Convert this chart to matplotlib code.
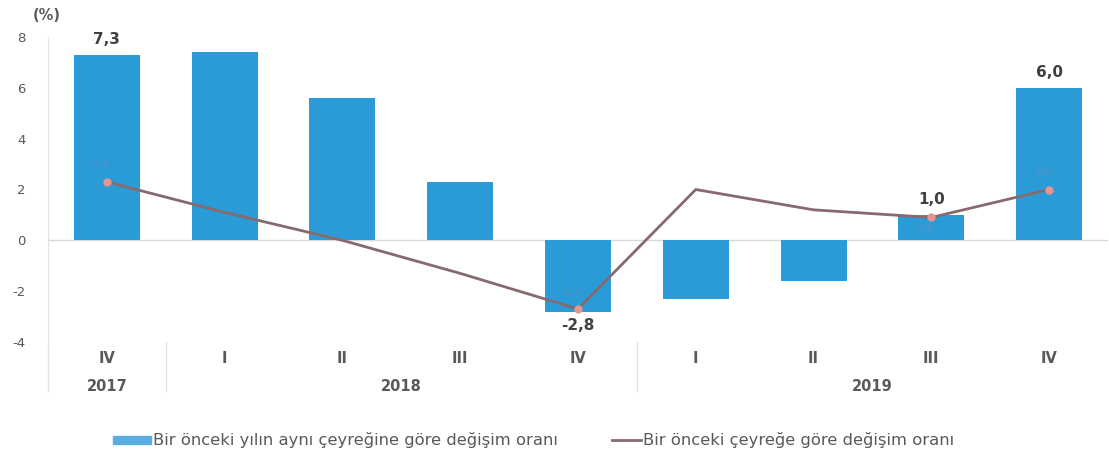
import matplotlib
matplotlib.use("Agg")
import matplotlib.pyplot as plt
import numpy as np
from matplotlib.transforms import blended_transform_factory
from matplotlib.patches import Rectangle
from matplotlib.lines import Line2D

quarters = ["IV", "I", "II", "III", "IV", "I", "II", "III", "IV"]
years = ["2017", "2018", "2019"]
year_spans = [(0, 0), (1, 4), (5, 8)]
annual_change = [7.3, 7.4, 5.6, 2.3, -2.8, -2.3, -1.6, 1.0, 6.0]
quarterly_change = [2.3, 1.1, 0.0, -1.3, -2.7, 2.0, 1.2, 0.9, 2.0]
bar_labels = {0: "7,3", 4: "-2,8", 7: "1,0", 8: "6,0"}
line_label_idx = [0, 4, 7, 8]
legend_bar = "Bir önceki yılın aynı çeyreğine göre değişim oranı"
legend_line = "Bir önceki çeyreğe göre değişim oranı"

plt.rcParams['font.family'] = ['DejaVu Sans']

fig = plt.figure(figsize=(11.09, 4.53), dpi=100)
ax = fig.add_axes([48/1109, (453-342)/453, 1060/1109, 305/453])

x = np.arange(len(quarters))
bar_color = '#2B9BD8'
line_color = '#866a6e'
txt = '#595959'

ax.bar(x, annual_change, width=0.56, color=bar_color, zorder=2)
ax.axhline(0, color='#d9d9d9', lw=1, zorder=1)
ax.plot(x, quarterly_change, color=line_color, lw=2.0, zorder=3,
        marker='o', markevery=line_label_idx, markersize=5,
        markerfacecolor='#e8948e', markeredgecolor='#e8948e')

for i, lab in bar_labels.items():
    v = annual_change[i]
    if v >= 0:
        ax.text(i, v + 0.3, lab, ha='center', va='bottom', fontsize=11,
                fontweight='bold', color='#404040', zorder=4)
    else:
        ax.text(i, v - 0.25, lab, ha='center', va='top', fontsize=11,
                fontweight='bold', color='#404040', zorder=4)

for i in line_label_idx:
    v = quarterly_change[i]
    s = f"{v:.1f}".replace('.', ',')
    if i == 7:
        ax.text(i - 0.05, v - 0.25, s, ha='center', va='top', fontsize=7.5,
                color='#6f8fae', alpha=0.55, zorder=4)
    else:
        ax.text(i - 0.05, v + 0.45, s, ha='center', va='bottom', fontsize=7.5,
                color='#6f8fae', alpha=0.55, zorder=4)

ax.set_xlim(-0.5, len(quarters) - 0.5)
ax.set_ylim(-4, 8)
ax.set_yticks(np.arange(-4, 9, 2))
ax.set_yticklabels([str(v) for v in range(-4, 9, 2)], fontsize=9.5, color=txt)
ax.tick_params(axis='y', length=0, pad=16)
ax.set_xticks([])
for sp in ['top', 'right', 'bottom']:
    ax.spines[sp].set_visible(False)
ax.spines['left'].set_color('#e3e3e3')

trans = blended_transform_factory(ax.transData, ax.transAxes)
for i, q in enumerate(quarters):
    ax.text(i, -0.03, q, transform=trans, ha='center', va='top', fontsize=10.5,
            fontweight='bold', color=txt)
for (a, b), yr in zip(year_spans, years):
    ax.text((a + b) / 2, -0.12, yr, transform=trans, ha='center', va='top',
            fontsize=10.5, fontweight='bold', color=txt)
for sx in [-0.5, 0.5, 4.5]:
    ax.plot([sx, sx], [0, -0.16], transform=trans, color='#e3e3e3', lw=1,
            clip_on=False)

fig.text(33/1109, 1 - 15/453, "(%)", fontsize=10.5, fontweight='bold', color=txt,
         ha='left', va='center')

ly = 1 - 440/453
fig.patches.append(Rectangle((113/1109, ly - 4/453), 38/1109, 8/453,
                             transform=fig.transFigure, color='#5aafe0'))
fig.text(153/1109, ly, legend_bar, fontsize=11.8, color=txt, ha='left', va='center')
fig.lines.append(Line2D([612/1109, 641/1109], [ly, ly], transform=fig.transFigure,
                        color=line_color, lw=2))
fig.text(643/1109, ly, legend_line, fontsize=11.8, color=txt, ha='left', va='center')

fig.savefig("out.png", dpi=100)
